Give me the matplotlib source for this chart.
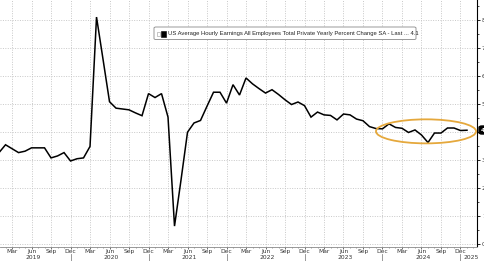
import matplotlib
matplotlib.use("Agg")
import matplotlib.pyplot as plt
from matplotlib.patches import Ellipse, FancyBboxPatch
from matplotlib.ticker import FixedLocator, NullFormatter
import numpy as np

# monthly yoy %, Jan 2019 .. Jan 2025
start_year = 2019
values = [3.26, 3.54, 3.40, 3.26, 3.31, 3.43, 3.43, 3.43, 3.07, 3.14, 3.26, 2.96,   # 2019
          3.04, 3.07, 3.48, 8.11, 6.60, 5.08, 4.85, 4.82, 4.79, 4.68, 4.58, 5.37,   # 2020
          5.23, 5.37, 4.53, 0.63, 2.28, 3.99, 4.32, 4.41, 4.92, 5.42, 5.42, 5.03,   # 2021
          5.69, 5.32, 5.93, 5.72, 5.55, 5.39, 5.51, 5.34, 5.15, 4.98, 5.07, 4.94,   # 2022
          4.53, 4.71, 4.61, 4.59, 4.43, 4.64, 4.61, 4.46, 4.40, 4.19, 4.12, 4.11,   # 2023
          4.29, 4.16, 4.13, 3.98, 4.07, 3.89, 3.62, 3.96, 3.96, 4.14, 4.14, 4.05,   # 2024
          4.06]                                                                      # 2025
last_value = "4.1"
month_names = ["Mar", "Jun", "Sep", "Dec"]
years = [2019, 2020, 2021, 2022, 2023, 2024, 2025]
legend_text = "US Average Hourly Earnings All Employees Total Private Yearly Percent Change SA - Last ... 4.1"

W, H = 485, 261
fig = plt.figure(figsize=(W / 100, H / 100), dpi=100)
fig.patch.set_facecolor("white")

def fx(p):
    return p / W

def fy(p):
    return 1 - p / H

ax = fig.add_axes([0, fy(246.5), fx(477), 246.5 / H])
ax.set_facecolor("white")

months = np.arange(len(values))
ax.plot(months, values, color="black", lw=1.1, solid_joinstyle="miter", zorder=3)

ax.set_xlim(0.15, 73.54)
ax.set_ylim(-0.1, 8.72)

# quarterly ticks Mar/Jun/Sep/Dec
qticks = []
qlabels = []
for y in range(6):
    for k, nm in enumerate(month_names):
        qticks.append(y * 12 + 2 + 3 * k)
        qlabels.append(nm)
ax.set_xticks(qticks)
ax.set_xticklabels(qlabels, fontsize=4.3, color="#333333")
ax.xaxis.set_minor_locator(FixedLocator(np.arange(0, 74)))
ax.xaxis.set_minor_formatter(NullFormatter())
ax.tick_params(axis="x", which="major", length=1.5, width=0.6, pad=0.3, colors="#555555",
               labelcolor="#333333")
ax.tick_params(axis="x", which="minor", length=1.0, width=0.5, colors="#777777")

ax.yaxis.tick_right()
ax.set_yticks(range(0, 9))
ylabels = [f"{v:.1f}" for v in range(0, 9)]
ylabels[4] = ""  # covered by the last value tag
ax.set_yticklabels(ylabels, fontsize=4.3, color="#333333")
ax.yaxis.set_minor_locator(FixedLocator(np.arange(0.5, 8.6, 1.0)))
ax.tick_params(axis="y", which="major", length=2.5, width=0.6, pad=1, colors="black",
               labelcolor="#333333")
ax.tick_params(axis="y", which="minor", length=1.5, width=0.5, colors="black")

ax.grid(True, which="major", color="#c8c8c8", linestyle=(0, (1, 1.5)), lw=0.7)
for s in ["top", "left"]:
    ax.spines[s].set_visible(False)
ax.spines["right"].set_color("black")
ax.spines["right"].set_linewidth(0.8)
ax.spines["bottom"].set_color("#888888")
ax.spines["bottom"].set_linewidth(0.6)

# year labels and separators
for yr in years:
    m = (yr - start_year) * 12 + 5.2
    if yr == 2025:
        m = 72.6
    xfig = ax.transData.transform((m, 0))[0] / W
    fig.text(xfig, fy(257.5), str(yr), fontsize=4.3, color="#333333",
             ha="center", va="center")
for yr in years[:-1]:
    m = (yr - start_year) * 12 + 11
    xfig = ax.transData.transform((m, 0))[0] / W
    fig.lines.append(plt.Line2D([xfig, xfig], [fy(253.5), fy(261)],
                                transform=fig.transFigure, color="#888888", lw=0.6))

# highlight ellipse
ax.add_patch(Ellipse((65.7, 4.02), 15.4, 0.86, fill=False, edgecolor="#e5a83c",
                     lw=1.3, zorder=4))

# last value tag
fig.patches.append(FancyBboxPatch((fx(479), fy(134)), fx(10), 8 / H,
                                  boxstyle="round,pad=0,rounding_size=0.006",
                                  transform=fig.transFigure, facecolor="black",
                                  edgecolor="black", zorder=5))
fig.text(fx(480.5), fy(130), last_value, fontsize=4.5, color="white",
         fontweight="bold", ha="left", va="center", zorder=6)

# legend box
fig.patches.append(FancyBboxPatch((fx(154), fy(39.5)), fx(262), 12.5 / H,
                                  boxstyle="round,pad=0,rounding_size=0.004",
                                  transform=fig.transFigure, facecolor="white",
                                  edgecolor="#888888", lw=0.6, zorder=5))
fig.patches.append(FancyBboxPatch((fx(157), fy(35.5)), fx(3), 4 / H,
                                  boxstyle="square,pad=0", transform=fig.transFigure,
                                  facecolor="white", edgecolor="#999999", lw=0.4, zorder=6))
fig.patches.append(FancyBboxPatch((fx(161), fy(36.5)), fx(5), 6 / H,
                                  boxstyle="square,pad=0", transform=fig.transFigure,
                                  facecolor="black", edgecolor="black", lw=0.4, zorder=6))
fig.text(fx(168), fy(33.3), legend_text, fontsize=4.2, family="Liberation Sans",
         color="#222222", ha="left", va="center", zorder=7)

fig.savefig("out.png", dpi=100, facecolor="white")
